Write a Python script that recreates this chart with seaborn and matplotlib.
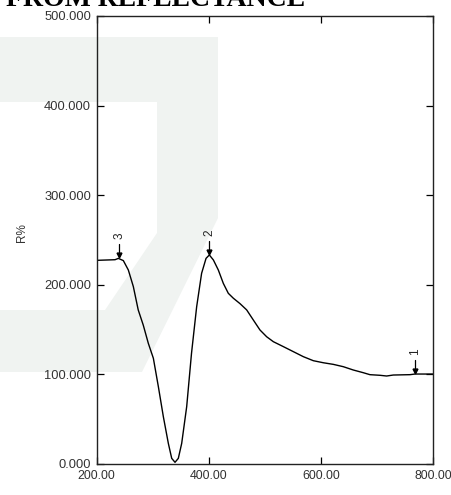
import matplotlib
matplotlib.use("Agg")
import matplotlib.pyplot as plt
from matplotlib.patches import Polygon
from matplotlib.ticker import FormatStrFormatter
import seaborn as sns
import pandas as pd

# spectrum
wavelength = [200, 232.7, 238.6, 247.5, 256.4, 265.3, 274, 283, 292, 301, 310,
              318.8, 327.7, 333.7, 339.6, 345.5, 351.5, 360.4, 369, 378.2, 387,
              394.9, 400.8, 408, 416.8, 425.7, 434.6, 443.6, 455.4, 467.3, 479.2,
              491, 503, 514.9, 532.7, 550.5, 568.3, 586.1, 604, 621.8, 639.6,
              657.4, 675.2, 687, 705, 716.8, 728.7, 758.4, 767.3, 800]
reflectance = [227.3, 228, 229.5, 227, 216.5, 198, 172, 155, 134.7, 118, 86,
               52.8, 23, 6.3, 1.9, 6.3, 23, 64, 123.5, 175.6, 212.8,
               229.5, 233.3, 227.7, 216.5, 201.6, 190.5, 185, 179, 172, 160.7,
               149.6, 142, 136.5, 131, 125.4, 119.8, 115.3, 113, 111.2, 108.6,
               104.9, 101.9, 99.7, 99, 98.2, 99.3, 99.7, 100.4, 100.4]

peak_labels = ["1", "2", "3"]
peak_nm = [767.3, 400.8, 240.0]
peak_r = [100.4, 233.3, 229.5]

x_ticks = [200, 400, 600, 800]
y_ticks = [0, 100, 200, 300, 400, 500]

df = pd.DataFrame({"nm": wavelength, "R%": reflectance})

sns.set_style("white")
plt.rcParams["font.family"] = ["Liberation Sans", "DejaVu Sans"]

W, H = 452, 495
fig = plt.figure(figsize=(W / 100, H / 100), dpi=100)


def px(x, y):
    return (x / W, 1 - y / H)


# faint watermark behind the plot
wm = "#f0f3f1"
outer = [px(0, 37), px(218, 37), px(218, 218), px(142, 372), px(0, 372)]
inner = [px(0, 102), px(157, 102), px(157, 233), px(105, 310), px(0, 310)]
fig.patches.append(Polygon(outer, closed=True, transform=fig.transFigure,
                           facecolor=wm, edgecolor="none", zorder=-2))
fig.patches.append(Polygon(inner, closed=True, transform=fig.transFigure,
                           facecolor="white", edgecolor="none", zorder=-1))

ax = fig.add_axes([96.7 / W, 1 - 464 / H, (433.3 - 96.7) / W, (464 - 16) / H])
ax.set_facecolor("none")
ax.set_zorder(2)

sns.lineplot(data=df, x="nm", y="R%", ax=ax, color="black", linewidth=1.0)

# peak pick markers
for lab, xn, yr in zip(peak_labels, peak_nm, peak_r):
    ax.plot([xn, xn], [yr + 3, yr + 16], color="black", lw=0.9)
    ax.plot([xn], [yr + 3.5], marker="v", color="black", markersize=3.5)
    ax.text(xn, yr + 25, lab, rotation=90, ha="center", va="center",
            fontsize=8.5, color="#222222")

ax.set_xlim(200, 800)
ax.set_ylim(0, 500)
ax.set_xticks(x_ticks)
ax.set_yticks(y_ticks)
ax.xaxis.set_major_formatter(FormatStrFormatter("%.2f"))
ax.yaxis.set_major_formatter(FormatStrFormatter("%.3f"))
ax.tick_params(direction="in", length=5, width=0.9, color="black",
               labelcolor="#333333", pad=4,
               top=True, right=True, bottom=True, left=True)
ax.tick_params(axis="y", labelsize=9.3)
ax.tick_params(axis="x", labelsize=8.9)
for s in ax.spines.values():
    s.set_color("#222222")
    s.set_linewidth(1.0)

ax.set_xlabel("nm", fontsize=8.5, color="#333333")
ax.set_ylabel("R%", fontsize=8.5, color="#333333")
ax.xaxis.set_label_coords(0.5, -0.075)
ax.yaxis.set_label_coords(-0.205, 0.516)

# title cut off at the top edge of the image
fig.text(305 / W, 1 - 6 / H, "FROM REFLECTANCE", ha="right", va="baseline",
         fontsize=20, fontweight="bold", family=["Liberation Serif", "DejaVu Serif"],
         color="black")

fig.savefig("out.png", dpi=100)
